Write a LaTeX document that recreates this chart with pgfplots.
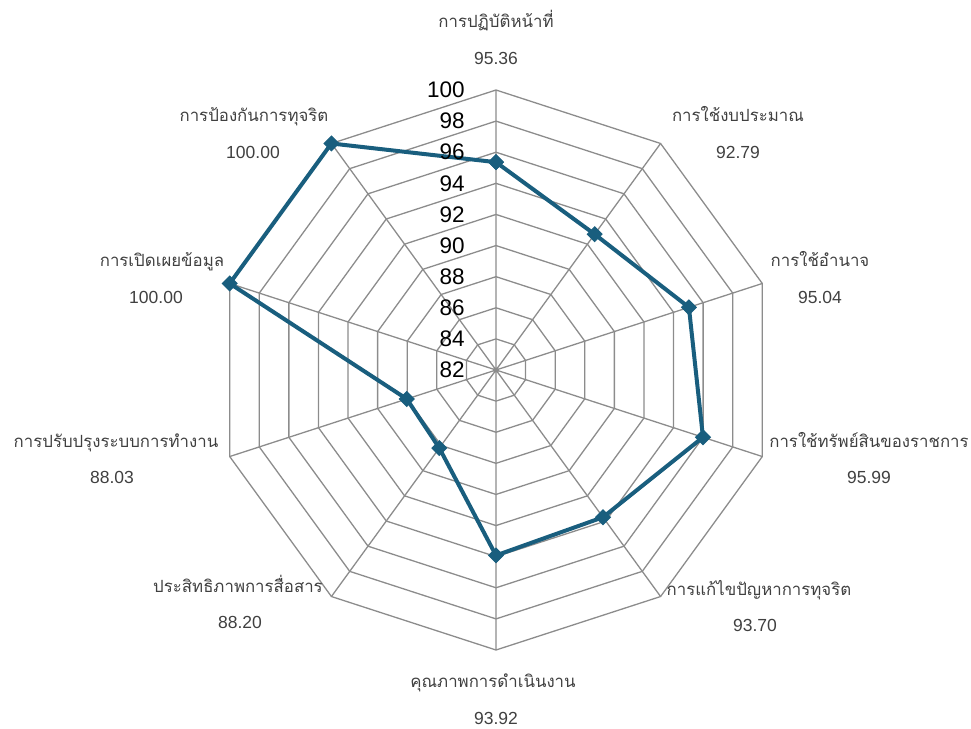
\documentclass[border=0pt]{standalone}
\usepackage{fontspec}
\usepackage{pgfplots}
\pgfplotsset{compat=1.18}
\usepackage{pgfplotstable}
\setmainfont{Liberation Sans}
\newfontfamily\thaifont[Script=Thai]{Loma}
\definecolor{series}{RGB}{25,94,126}
\definecolor{gridc}{RGB}{140,140,140}
\definecolor{txt}{RGB}{64,64,64}

% angle (degrees, math convention) and score
\pgfplotstableread{
a v
90 95.36
54 92.79
18 95.04
-18 95.99
-54 93.70
-90 93.92
-126 88.20
-162 88.03
162 100.00
126 100.00
90 95.36
}\datatab

\pgfplotstableread{
a d
90 0
54 0
18 0
-18 0
-54 0
-90 0
-126 0
-162 0
162 0
126 0
90 0
}\angtab

\pgfplotstableread{
a r
90 0
90 18
54 0
54 18
18 0
18 18
-18 0
-18 18
-54 0
-54 18
-90 0
-90 18
-126 0
-126 18
-162 0
-162 18
162 0
162 18
126 0
126 18
}\spoketab

\newcommand{\thl}{\thaifont\fontsize{8.4}{10}\selectfont}
\newcommand{\nml}{\fontsize{8.75}{10}\selectfont}
\newcommand{\rgl}{\fontsize{11.25}{12}\selectfont}

\begin{document}
\begin{tikzpicture}
\begin{axis}[
  width=485.5pt, height=364.5pt, scale only axis,
  hide axis, clip=false,
  xmin=0, xmax=971, ymin=0, ymax=729, y dir=reverse,
]
% grid rings 84..100
\pgfplotsinvokeforeach{2,4,...,18}{
  \addplot[gridc, line width=0.65pt, no marks]
    table[x expr={496+#1*15.5556*cos(\thisrow{a})},
          y expr={370-#1*15.5556*sin(\thisrow{a})}] {\angtab};
}
% spokes
\addplot[gridc, line width=0.65pt, no marks]
  table[x expr={496+\thisrow{r}*15.5556*cos(\thisrow{a})},
        y expr={370-\thisrow{r}*15.5556*sin(\thisrow{a})}] {\spoketab};
% data
\addplot[series, line width=2pt, mark=square*,
  mark options={rotate=45, solid, fill=series, line width=0.5pt}, mark size=2.6pt]
  table[x expr={496+(\thisrow{v}-82)*15.5556*cos(\thisrow{a})},
        y expr={370-(\thisrow{v}-82)*15.5556*sin(\thisrow{a})}] {\datatab};

% ring labels
\pgfplotsinvokeforeach{82,84,...,100}{
  \node[anchor=east, font=\rgl, text=black, inner sep=0pt] at (axis cs:465,{370-(#1-82)*15.5556}) {#1};
}

% category labels
\node[anchor=base, font=\thl, text=txt] at (axis cs:496,27) {การปฏิบัติหน้าที่};
\node[anchor=base, font=\nml, text=txt] at (axis cs:496,64) {95.36};
\node[anchor=base, font=\thl, text=txt] at (axis cs:738,121.5) {การใช้งบประมาณ};
\node[anchor=base, font=\nml, text=txt] at (axis cs:738,158.5) {92.79};
\node[anchor=base, font=\thl, text=txt] at (axis cs:820,266.5) {การใช้อำนาจ};
\node[anchor=base, font=\nml, text=txt] at (axis cs:820,303.5) {95.04};
\node[anchor=base, font=\thl, text=txt] at (axis cs:869,447) {การใช้ทรัพย์สินของราชการ};
\node[anchor=base, font=\nml, text=txt] at (axis cs:869,483) {95.99};
\node[anchor=base, font=\thl, text=txt] at (axis cs:759,595) {การแก้ไขปัญหาการทุจริต};
\node[anchor=base, font=\nml, text=txt] at (axis cs:755,631.5) {93.70};
\node[anchor=base, font=\thl, text=txt] at (axis cs:493,687) {คุณภาพการดำเนินงาน};
\node[anchor=base, font=\nml, text=txt] at (axis cs:496,724) {93.92};
\node[anchor=base, font=\thl, text=txt] at (axis cs:238,592) {ประสิทธิภาพการสื่อสาร};
\node[anchor=base, font=\nml, text=txt] at (axis cs:240,628.5) {88.20};
\node[anchor=base, font=\thl, text=txt] at (axis cs:116,447) {การปรับปรุงระบบการทำงาน};
\node[anchor=base, font=\nml, text=txt] at (axis cs:112,483) {88.03};
\node[anchor=base, font=\thl, text=txt] at (axis cs:162,266.5) {การเปิดเผยข้อมูล};
\node[anchor=base, font=\nml, text=txt] at (axis cs:156,303.5) {100.00};
\node[anchor=base, font=\thl, text=txt] at (axis cs:254,121.5) {การป้องกันการทุจริต};
\node[anchor=base, font=\nml, text=txt] at (axis cs:253,158.5) {100.00};
\end{axis}
\pgfresetboundingbox
\path (current axis.south west) rectangle (current axis.north east);
\end{tikzpicture}
\end{document}
